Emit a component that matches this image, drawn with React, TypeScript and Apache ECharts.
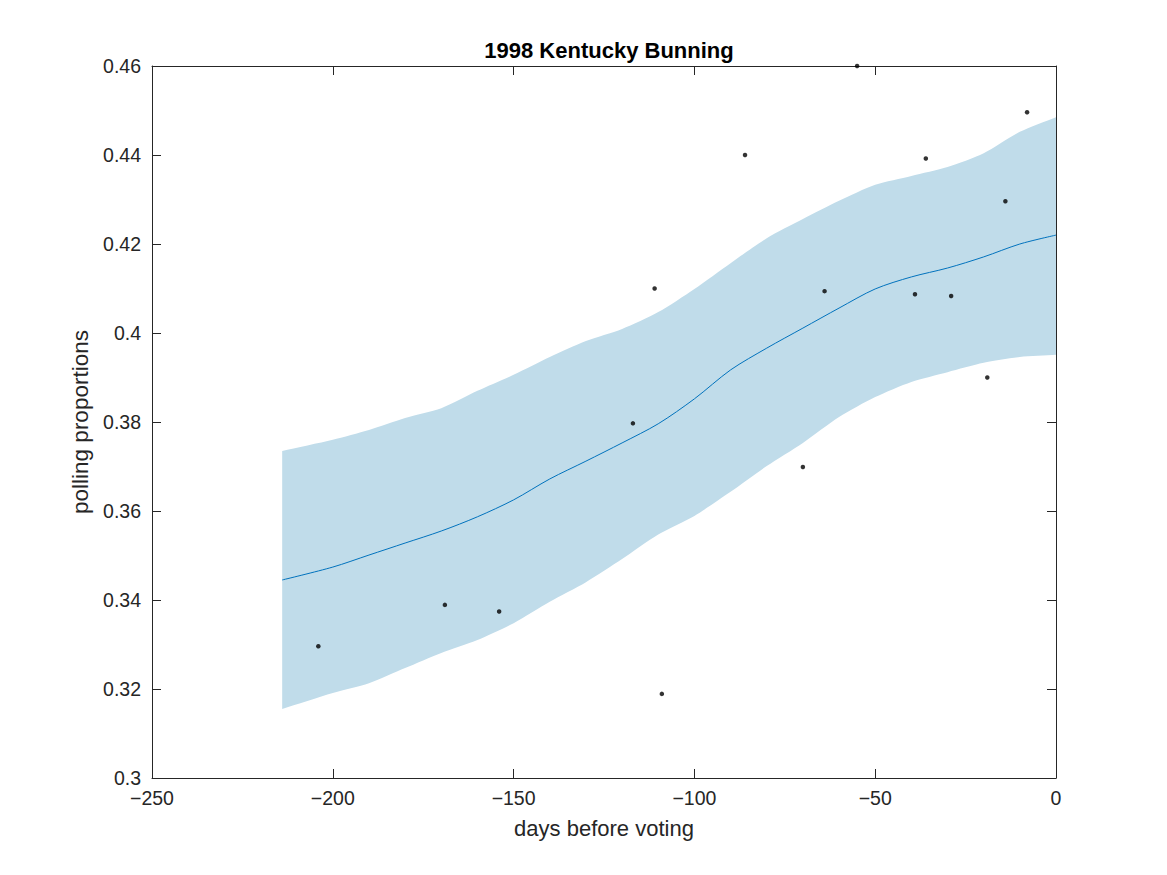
import React, { useEffect, useRef } from "react";
import * as echarts from "echarts";

// polls: days before the vote and Bunning's share
const pollDays = [-204, -169, -154, -117, -111, -109, -86, -70, -64, -55, -39, -36, -29, -19, -14, -8];
const pollProps = [
    0.3296, 0.3389, 0.3374, 0.3797, 0.41, 0.3189, 0.44, 0.3699, 0.4094, 0.46, 0.4087, 0.4392, 0.4083, 0.39,
    0.4296, 0.4496,
];

// smoothed fit with its band
const fitDays = [
    -214, -200, -190, -180, -170, -160, -150, -140, -130, -120, -110, -100, -90, -80, -70, -60, -50, -40, -30,
    -20, -10, 0,
];
const fitMean = [
    0.3445, 0.3474, 0.3501, 0.3528, 0.3555, 0.3587, 0.3625, 0.3672, 0.3712, 0.3753, 0.3796, 0.3852, 0.3917,
    0.3966, 0.4011, 0.4056, 0.4099, 0.4126, 0.4146, 0.4171, 0.42, 0.422,
];
const fitLower = [
    0.3155, 0.3191, 0.3213, 0.3247, 0.3281, 0.331, 0.3348, 0.3396, 0.344, 0.3492, 0.3547, 0.3589, 0.3643,
    0.3701, 0.3753, 0.3811, 0.3856, 0.389, 0.3912, 0.3933, 0.3946, 0.3951,
];
const fitUpper = [
    0.3735, 0.376, 0.3782, 0.3809, 0.3831, 0.387, 0.3906, 0.3946, 0.3982, 0.4009, 0.4047, 0.4099, 0.4157,
    0.4213, 0.4256, 0.4297, 0.4333, 0.4353, 0.4373, 0.4404, 0.4452, 0.4485,
];

const FONT = "Liberation Sans";
const AXIS_COLOR = "#262626";
const BAND_COLOR = "rgb(192,220,234)";

const App: React.FC = () => {
    const chartRef = useRef<HTMLDivElement>(null);

    useEffect(() => {
        if (!chartRef.current) return;
        const chart = echarts.init(chartRef.current, undefined, { renderer: "svg" });

        const tick = { show: true, inside: true, length: 9, lineStyle: { color: AXIS_COLOR } };
        const line = { show: true, onZero: false, lineStyle: { color: AXIS_COLOR, width: 1 } };
        const minus = (s: string) => s.replace("-", "\u2212");

        // the whole band as one polygon; end points doubled to keep corners sharp
        const renderBand = (params: any, api: any) => {
            if (params.dataIndex !== 0) return null;
            const top = fitDays.map((d, i) => api.coord([d, fitUpper[i]]));
            const bottom = fitDays.map((d, i) => api.coord([d, fitLower[i]])).reverse();
            const pts = [
                top[0],
                ...top,
                top[top.length - 1],
                bottom[0],
                ...bottom,
                bottom[bottom.length - 1],
            ];
            return {
                type: "polygon",
                shape: { points: pts, smooth: 0.25 },
                style: { fill: BAND_COLOR },
                silent: true,
            };
        };

        chart.setOption({
            animation: false,
            backgroundColor: "#ffffff",
            textStyle: { fontFamily: FONT },
            title: {
                text: "1998 Kentucky Bunning",
                left: 604,
                top: 34,
                textAlign: "center",
                textStyle: { fontFamily: FONT, fontSize: 22, fontWeight: "bold", color: "#000" },
            },
            grid: { left: 152, right: 111, top: 66, bottom: 97 },
            xAxis: [
                {
                    type: "value",
                    position: "bottom",
                    min: -250,
                    max: 0,
                    interval: 50,
                    axisLine: line,
                    axisTick: tick,
                    splitLine: { show: false },
                    axisLabel: {
                        fontFamily: FONT,
                        fontSize: 19.5,
                        color: AXIS_COLOR,
                        margin: 10,
                        formatter: (v: number) => minus(String(v)),
                    },
                    name: "days before voting",
                    nameLocation: "middle",
                    nameGap: 39,
                    nameTextStyle: { fontFamily: FONT, fontSize: 22, color: AXIS_COLOR },
                },
                {
                    type: "value",
                    position: "top",
                    min: -250,
                    max: 0,
                    interval: 50,
                    axisLine: line,
                    axisTick: tick,
                    splitLine: { show: false },
                    axisLabel: { show: false },
                },
            ],
            yAxis: [
                {
                    type: "value",
                    position: "left",
                    min: 0.3,
                    max: 0.46,
                    interval: 0.02,
                    axisLine: line,
                    axisTick: tick,
                    splitLine: { show: false },
                    axisLabel: {
                        fontFamily: FONT,
                        fontSize: 19.5,
                        color: AXIS_COLOR,
                        margin: 11,
                        formatter: (v: number) => String(parseFloat(v.toFixed(2))),
                    },
                    name: "polling proportions",
                    nameLocation: "middle",
                    nameGap: 53,
                    nameTextStyle: { fontFamily: FONT, fontSize: 22.5, color: AXIS_COLOR },
                },
                {
                    type: "value",
                    position: "right",
                    min: 0.3,
                    max: 0.46,
                    interval: 0.02,
                    axisLine: line,
                    axisTick: tick,
                    splitLine: { show: false },
                    axisLabel: { show: false },
                },
            ],
            series: [
                {
                    name: "band",
                    type: "custom",
                    renderItem: renderBand,
                    data: fitDays.map((d, i) => [d, fitLower[i], fitUpper[i]]),
                    encode: { x: 0, y: [1, 2] },
                    clip: true,
                    silent: true,
                    z: 1,
                },
                {
                    name: "fit",
                    type: "line",
                    data: fitDays.map((d, i) => [d, fitMean[i]]),
                    symbol: "none",
                    smooth: 0.3,
                    lineStyle: { color: "#0072bd", width: 1 },
                    z: 2,
                },
                {
                    name: "polls",
                    type: "scatter",
                    data: pollDays.map((d, i) => [d, pollProps[i]]),
                    symbol: "circle",
                    symbolSize: 4.5,
                    itemStyle: { color: "#000" },
                    clip: false,
                    z: 3,
                },
            ],
        });

        return () => {
            chart.dispose();
        };
    }, []);

    return (
        <div
            ref={chartRef}
            style={{ position: "fixed", left: 0, top: 0, width: "1167px", height: "875px" }}
        />
    );
};

export default App;
